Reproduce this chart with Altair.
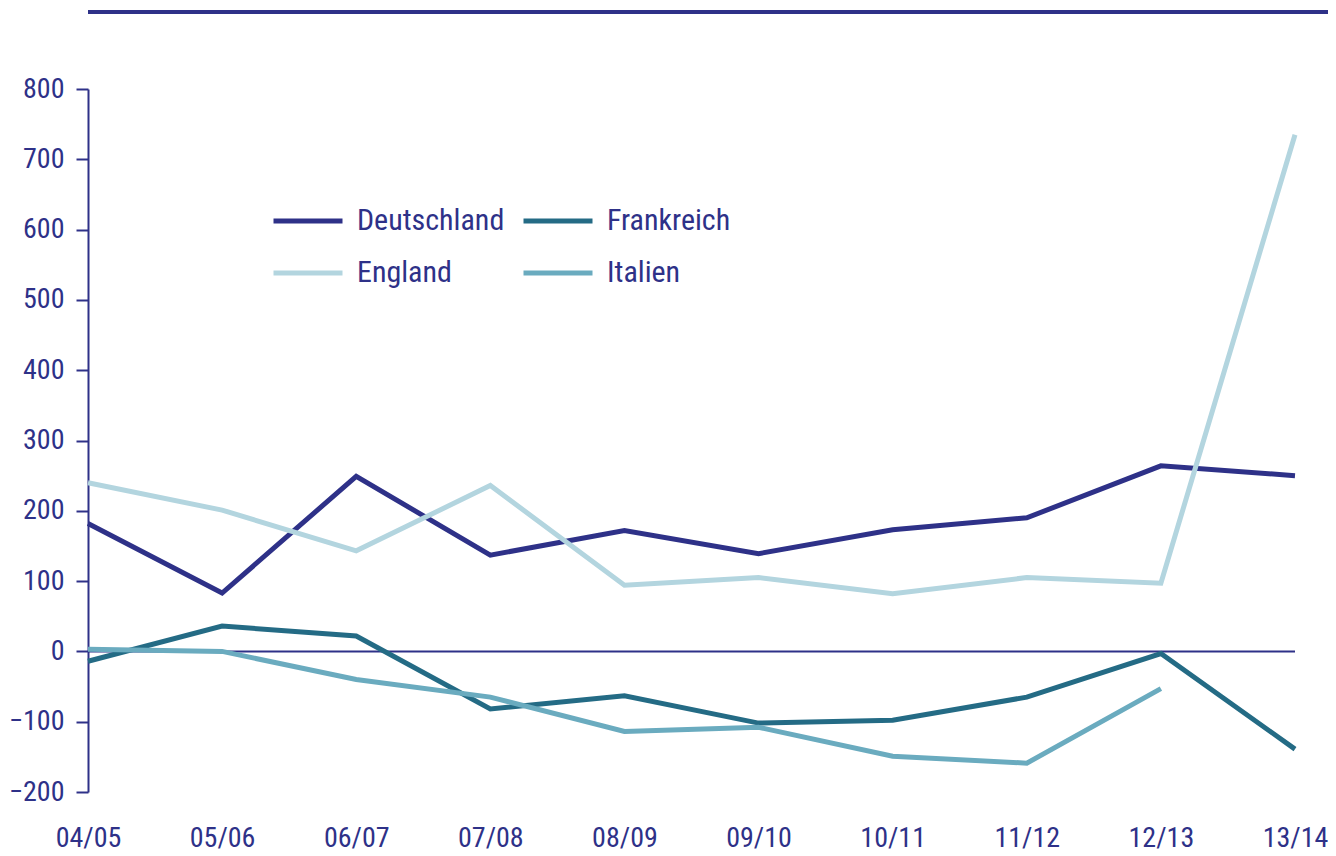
import altair as alt
import pandas as pd

seasons = ["04/05", "05/06", "06/07", "07/08", "08/09", "09/10", "10/11", "11/12", "12/13", "13/14"]
deutschland = [182, 83, 249, 137, 172, 139, 173, 190, 264, 250]
frankreich = [-14, 36, 22, -82, -63, -102, -98, -65, -3, -139]
england = [240, 201, 143, 236, 94, 105, 82, 105, 97, 735]
italien = [3, 0, -40, -65, -114, -108, -149, -159, -53, None]

countries = ["Deutschland", "England", "Frankreich", "Italien"]
colors = ["#2e3188", "#b3d5df", "#246b85", "#6aabbf"]
series = {"Deutschland": deutschland, "Frankreich": frankreich, "England": england, "Italien": italien}

rows = []
for c in countries:
    for s, v in zip(seasons, series[c]):
        rows.append({"Saison": s, "Land": c, "Wert": v})
df = pd.DataFrame(rows)

NAVY = "#2e3188"
FONT = "Roboto Condensed, Liberation Sans Narrow, Arial Narrow, sans-serif"
FS = 28

W, H = 1207, 703

lines = alt.Chart(df).mark_line(strokeWidth=5, strokeJoin="miter", strokeCap="butt").encode(
    x=alt.X("Saison:N", sort=seasons, scale=alt.Scale(type="point", padding=0),
            axis=alt.Axis(title=None, domain=False, ticks=False, tickSize=0, labelPadding=32,
                          labelAngle=0, labelFontSize=FS, labelColor=NAVY, labelFont=FONT,
                          grid=False)),
    y=alt.Y("Wert:Q", scale=alt.Scale(domain=[-200, 800], nice=False),
            axis=alt.Axis(title=None, values=list(range(-200, 801, 100)), domainColor=NAVY,
                          domainWidth=2, tickColor=NAVY, tickWidth=2, tickSize=12,
                          labelPadding=12, labelFontSize=FS, labelColor=NAVY, labelFont=FONT,
                          grid=False)),
    color=alt.Color("Land:N", sort=countries,
                    scale=alt.Scale(domain=countries, range=colors),
                    legend=alt.Legend(title=None, orient="none", legendX=183, legendY=95,
                                      columns=2, symbolType="stroke", symbolSize=4761,
                                      symbolStrokeWidth=5, labelFontSize=30, labelColor=NAVY,
                                      labelFont=FONT, labelOffset=12, columnPadding=8,
                                      rowPadding=-29, labelLimit=400)),
)

zero = alt.Chart(pd.DataFrame({"y": [0]})).mark_rule(color=NAVY, strokeWidth=2).encode(
    y="y:Q"
)

top_rule = alt.Chart(pd.DataFrame({"y": [0]})).mark_rule(color=NAVY, strokeWidth=4).encode(
    x=alt.value(0), x2=alt.value(1248), y=alt.value(-77)
)

chart = alt.layer(zero, lines, top_rule).properties(
    width=W, height=H,
    background="white",
    autosize=alt.AutoSizeParams(type="none"),
    padding={"left": 80, "top": 81, "right": 33, "bottom": 61},
).configure_view(stroke=None)

chart.save("out.html", embed_options={"renderer": "svg", "actions": False})
